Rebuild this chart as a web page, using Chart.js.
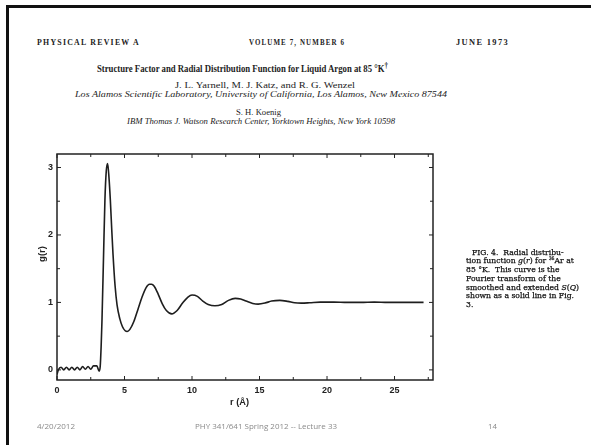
<!DOCTYPE html>
<html><head><meta charset="utf-8">
<script src="https://cdn.jsdelivr.net/npm/chart.js@4.4.1/dist/chart.umd.min.js"></script>
<style>
html,body{margin:0;padding:0;background:#fff;}
body{width:591px;height:445px;position:relative;overflow:hidden;}
.t{position:absolute;white-space:nowrap;line-height:1;transform-origin:0 50%;transform:translateY(-50%);color:#222;}
.serif{font-family:"Liberation Serif","DejaVu Serif",serif;}
.hdr{font-weight:bold;letter-spacing:1.2px;}
.foot{font-family:"Open Sans","Lato",sans-serif;color:#8a8a8a;}
.cap{font-family:"DejaVu Serif",serif;color:#111;-webkit-text-stroke:0.25px #111;}
#bl{position:absolute;left:6px;top:5px;width:2.5px;height:440px;background:#111;}
#bt{position:absolute;left:6px;top:5px;width:585px;height:2.5px;background:#111;}
#wrap{position:absolute;left:0;top:144px;width:450px;height:266px;}
</style></head>
<body>
<div id="bl"></div><div id="bt"></div>

<div class="t serif hdr" data-l="37" data-y="43" data-w="103" data-fs="7.5">PHYSICAL REVIEW A</div>
<div class="t serif hdr" data-l="249" data-y="43" data-w="96" data-fs="7.5">VOLUME 7, NUMBER 6</div>
<div class="t serif hdr" data-l="456" data-y="43" data-w="53" data-fs="7.5">JUNE 1973</div>
<div class="t serif" style="font-weight:bold" data-l="97" data-y="68" data-w="291" data-fs="10.5">Structure Factor and Radial Distribution Function for Liquid Argon at 85 °K<sup style="font-size:0.8em">†</sup></div>
<div class="t serif" data-l="175" data-y="85" data-w="180" data-fs="8.5">J. L. Yarnell, M. J. Katz, and R. G. Wenzel</div>
<div class="t serif" style="font-style:italic" data-l="75" data-y="96" data-w="372" data-fs="7.2">Los Alamos Scientific Laboratory, University of California, Los Alamos, New Mexico 87544</div>
<div class="t serif" data-l="236" data-y="112" data-w="45" data-fs="8.5">S. H. Koenig</div>
<div class="t serif" style="font-style:italic" data-l="127" data-y="123" data-w="268" data-fs="7.2">IBM Thomas J. Watson Research Center, Yorktown Heights, New York 10598</div>

<div id="wrap"><canvas id="c" width="450" height="266"></canvas></div>

<div class="t" style="font-family:'Liberation Sans',sans-serif;font-weight:bold;font-size:9.5px;left:34px;top:254px;transform:translate(0,-50%) rotate(-90deg);transform-origin:50% 50%;">g(r)</div>
<div class="t" data-l="230" data-y="402" data-w="19" data-fs="9.5" style="font-family:'Liberation Sans',sans-serif;font-weight:bold;">r (Å)</div>

<div class="t cap" data-l="471.7" data-y="251.7">FIG. 4.&nbsp; Radial distribu-</div>
<div class="t cap" data-l="465.7" data-y="260.4">tion function <i>g</i>(<i>r</i>) for <sup style="font-size:0.6em">36</sup>Ar at</div>
<div class="t cap" data-l="465.7" data-y="269.1">85 °K.&nbsp; This curve is the</div>
<div class="t cap" data-l="465.7" data-y="277.8">Fourier transform of the</div>
<div class="t cap" data-l="465.7" data-y="286.5">smoothed and extended <i>S</i>(<i>Q</i>)</div>
<div class="t cap" id="capref" data-l="465.7" data-y="295.2">shown as a solid line in Fig.</div>
<div class="t cap" data-l="465.7" data-y="303.9">3.</div>

<div class="t foot" data-l="37" data-y="426" data-w="38" data-fs="8">4/20/2012</div>
<div class="t foot" data-l="195" data-y="426" data-w="142" data-fs="8">PHY 341/641 Spring 2012 -- Lecture 33</div>
<div class="t foot" data-l="488" data-y="426" data-w="9" data-fs="8">14</div>

<script>
// ---- data ----
const rValues = [0,0.1,0.3,0.5,0.7,0.9,1.1,1.3,1.5,1.7,1.9,2.1,2.3,2.5,2.7,2.95,3.12,3.2,3.27,3.33,3.45,3.55,3.65,3.75,3.85,3.95,4.05,4.15,4.3,4.45,4.65,4.85,5.05,5.2,5.4,5.7,6.0,6.3,6.6,6.85,7.0,7.2,7.5,7.8,8.1,8.5,8.9,9.3,9.7,10.0,10.4,10.8,11.2,11.7,12.2,12.7,13.2,13.6,14.0,14.5,14.9,15.4,15.9,16.5,17.1,17.6,18.1,18.7,19.5,20.5,21.5,22.5,23.5,24.5,25.5,26.5,27.15];
const gValues = [-0.07,0.0,0.04,0.0,0.04,0.0,0.04,0.0,0.04,0.0,0.05,0.01,0.05,0.01,0.06,0.06,-0.02,0.05,0.35,0.72,1.71,2.52,2.95,3.06,2.85,2.52,2.1,1.71,1.25,0.96,0.76,0.64,0.58,0.57,0.6,0.72,0.9,1.08,1.22,1.27,1.27,1.24,1.12,0.98,0.88,0.83,0.88,0.99,1.08,1.11,1.09,1.02,0.97,0.95,0.97,1.03,1.06,1.05,1.02,0.985,0.975,0.99,1.02,1.03,1.015,0.995,0.99,0.995,1.005,1.005,1.0,1.0,1.005,1.0,1.0,1.0,1.0];
const xTickLabels = [0,5,10,15,20,25];
const yTickLabels = [0,1,2,3];
const xMinorTicks = [0,2.5,5,7.5,10,12.5,15,17.5,20,22.5,25,27.5];
const yMinorTicks = [0,0.5,1,1.5,2,2.5,3];
const xRange = [0,27.85];
const yRange = [-0.15,3.2];

// ---- text placement (layout only): font size from data-fs, horizontal squeeze to the measured width ----
document.querySelectorAll('[data-l]').forEach(el=>{
  el.style.left = el.dataset.l+'px';
  el.style.top = el.dataset.y+'px';
  if (el.dataset.w){
    el.style.fontSize = el.dataset.fs+'px';
    const w = el.getBoundingClientRect().width;
    const s = parseFloat(el.dataset.w)/w;
    el.style.transform = 'translateY(-50%) scaleX('+s+')';
  }
});
(function(){
  const caps=document.querySelectorAll('.cap');
  caps.forEach(e=>{e.style.fontSize='8.2px';});
  const ref=document.getElementById('capref');
  const s=108/ref.getBoundingClientRect().width;
  caps.forEach(e=>{e.style.transform='translateY(-50%) scaleX('+s+')';});
})();

const frameTicks = {
  id:'frameTicks',
  afterDraw(chart){
    const {ctx, chartArea:a, scales:{x,y}} = chart;
    ctx.save();
    ctx.strokeStyle='#222';
    ctx.lineWidth=1.5;
    ctx.strokeRect(a.left,a.top,a.right-a.left,a.bottom-a.top);
    ctx.lineWidth=1;
    ctx.beginPath();
    xMinorTicks.forEach(v=>{
      const p=x.getPixelForValue(v);
      const L = xTickLabels.includes(v)?4:3;
      ctx.moveTo(p,a.bottom); ctx.lineTo(p,a.bottom-L);
      ctx.moveTo(p,a.top); ctx.lineTo(p,a.top+L);
    });
    yMinorTicks.forEach(v=>{
      const p=y.getPixelForValue(v);
      const L = yTickLabels.includes(v)?4:3;
      ctx.moveTo(a.left,p); ctx.lineTo(a.left+L,p);
      ctx.moveTo(a.right,p); ctx.lineTo(a.right-L,p);
    });
    ctx.stroke();
    ctx.restore();
  }
};

new Chart(document.getElementById('c'),{
  type:'line',
  data:{datasets:[{
    data:rValues.map((r,i)=>({x:r,y:gValues[i]})),
    borderColor:'#1e1e1e',borderWidth:1.6,pointRadius:0,
    cubicInterpolationMode:'monotone',fill:false
  }]},
  options:{
    responsive:false,animation:false,
    layout:{padding:{left:0,top:10,right:17,bottom:0}},
    plugins:{legend:{display:false},tooltip:{enabled:false}},
    scales:{
      x:{type:'linear',min:xRange[0],max:xRange[1],
        afterBuildTicks:s=>{s.ticks=xTickLabels.map(v=>({value:v}));},
        afterFit:s=>{s.height=30;},
        grid:{display:false,drawTicks:false},border:{display:false},
        ticks:{padding:5,color:'#222',font:{family:'Liberation Sans',weight:'bold',size:9}}},
      y:{type:'linear',min:yRange[0],max:yRange[1],
        afterBuildTicks:s=>{s.ticks=yTickLabels.map(v=>({value:v}));},
        afterFit:s=>{s.width=57;},
        grid:{display:false,drawTicks:false},border:{display:false},
        ticks:{padding:4,color:'#222',font:{family:'Liberation Sans',weight:'bold',size:9}}}
    }
  },
  plugins:[frameTicks]
});
</script>
</body></html>
